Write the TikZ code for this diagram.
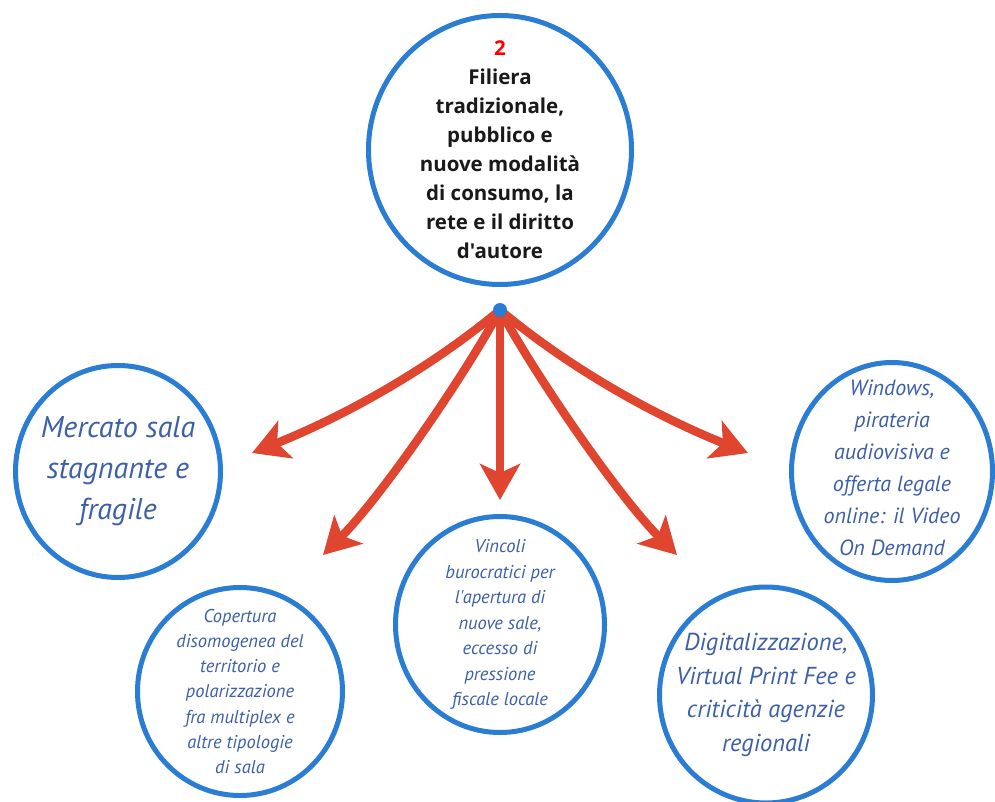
\documentclass[tikz,border=0pt]{standalone}
\usepackage{fontspec}
\usetikzlibrary{arrows.meta,shapes.geometric}
\newfontfamily\titlefont{Open Sans}
\newfontfamily\bodyfont{PT Sans}
\definecolor{ringblue}{RGB}{42,125,210}
\definecolor{txtblue}{RGB}{60,95,168}
\definecolor{arrred}{RGB}{224,69,48}
\definecolor{titleblack}{RGB}{25,25,25}
\tikzset{
  ring/.style={draw=ringblue, line width=5pt, ellipse, inner sep=0pt, fill=none},
  itxt/.style={align=center, text=txtblue, inner sep=0pt},
  arr/.style={draw=arrred, line width=8.5pt, -{Stealth[length=36pt, width=40pt, inset=9pt]}},
  hubdot/.style={circle, fill=ringblue, minimum size=14pt, inner sep=0pt}
}
\begin{document}
\begin{tikzpicture}[x=1pt, y=-1pt]
\useasboundingbox[fill=white] (0,0) rectangle (995,802);

% rings
\node[ring, minimum width=263pt, minimum height=269pt] (main) at (500,150) {};
\node[ring, minimum width=205pt, minimum height=212pt] (mercato) at (118,471.5) {};
\node[ring, minimum width=201pt, minimum height=218pt] (windows) at (892,471.5) {};
\node[ring, minimum width=205pt, minimum height=208pt] (copertura) at (240,691.5) {};
\node[ring, minimum width=209pt, minimum height=216pt] (vincoli) at (500,624.5) {};
\node[ring, minimum width=213pt, minimum height=216pt] (digital) at (766,695) {};

% texts
\node[align=center, inner sep=0pt, text=titleblack, font=\titlefont\bfseries\fontsize{20.5}{29}\selectfont] (maintxt) at (main.center)
  {\textcolor{red}{2}\\Filiera\\tradizionale,\\pubblico e\\nuove modalità\\di consumo, la\\rete e il diritto\\d'autore};
\node[itxt, font=\bodyfont\itshape\fontsize{30}{41}\selectfont] (mercatotxt) at (mercato.center)
  {Mercato sala\\stagnante e\\fragile};
\node[itxt, font=\bodyfont\itshape\fontsize{22}{32}\selectfont] (windowstxt) at ([yshift=4pt]windows.center)
  {Windows,\\pirateria\\audiovisiva e\\offerta legale\\online: il Video\\On Demand};
\node[itxt, font=\bodyfont\itshape\fontsize{18.5}{25.2}\selectfont] (coperturatxt) at (copertura.center)
  {Copertura\\disomogenea del\\territorio e\\polarizzazione\\fra multiplex e\\altre tipologie\\di sala};
\node[itxt, font=\bodyfont\itshape\fontsize{18.5}{25.5}\selectfont] (vincolitxt) at (vincoli.center)
  {Vincoli\\burocratici per\\l'apertura di\\nuove sale,\\eccesso di\\pressione\\fiscale locale};
\node[itxt, font=\bodyfont\itshape\fontsize{24.5}{33.5}\selectfont] (digitaltxt) at (digital.center)
  {Digitalizzazione,\\Virtual Print Fee e\\criticità agenzie\\regionali};

% arrows
\coordinate (hub) at (500,310);
\coordinate (tipA) at (252,453);
\coordinate (tipB) at (323,555);
\coordinate (tipC) at (500,500);
\coordinate (tipD) at (677,555);
\coordinate (tipE) at (748,453);
\draw[arr] (hub) .. controls (427,371) and (340,418) .. (tipA);
\draw[arr] (hub) .. controls (462,380) and (380,498) .. (tipB);
\draw[arr] (hub) -- (tipC);
\draw[arr] (hub) .. controls (538,380) and (620,498) .. (tipD);
\draw[arr] (hub) .. controls (573,371) and (660,418) .. (tipE);
\node[hubdot] (dot) at (hub) {};
\end{tikzpicture}
\end{document}
